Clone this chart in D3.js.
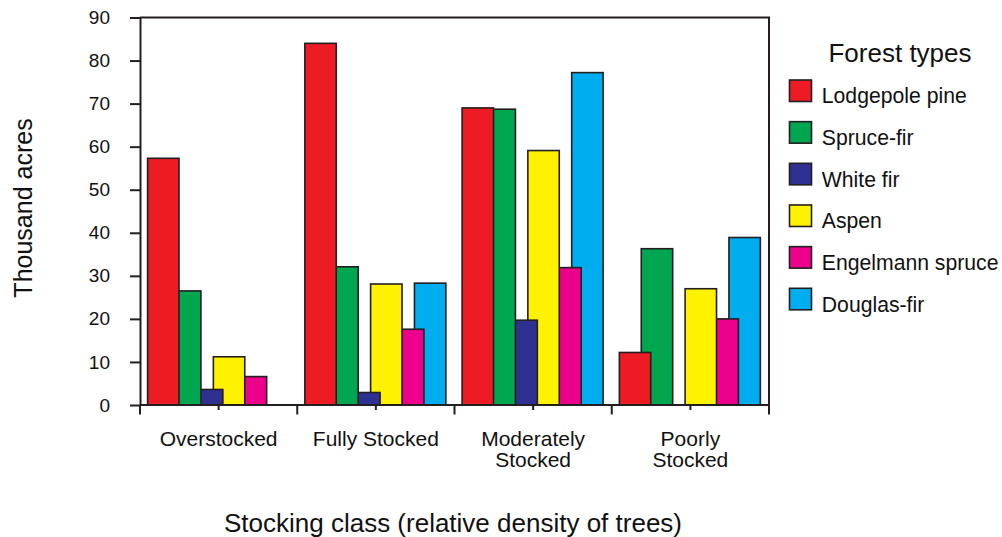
<!DOCTYPE html>
<html>
<head>
<meta charset="utf-8">
<script src="https://cdn.jsdelivr.net/npm/d3@7/dist/d3.min.js"></script>
<style>
  html, body { margin: 0; padding: 0; background: #fff; }
  svg { display: block; }
  text { font-family: "Liberation Sans", Arial, Helvetica, sans-serif; fill: #111; }
</style>
</head>
<body>
<svg id="chart" width="1002" height="537"></svg>
<script>
// ---- data ----
const categories = ["Overstocked", "Fully Stocked", "Moderately\nStocked", "Poorly\nStocked"];
const seriesNames = ["Lodgepole pine", "Spruce-fir", "White fir", "Aspen", "Engelmann spruce", "Douglas-fir"];
const lodgepolePine   = [57.3, 84.0, 69.0, 12.2];
const spruceFir       = [26.5, 32.1, 68.7, 36.3];
const whiteFir        = [3.6, 2.9, 19.7, 0];
const aspen           = [11.2, 28.1, 59.1, 27.0];
const engelmannSpruce = [6.6, 17.6, 31.9, 20.0];
const douglasFir      = [0, 28.3, 77.2, 38.9];
const yTicks = [0, 10, 20, 30, 40, 50, 60, 70, 80, 90];
const legendTitle = "Forest types";
const yTitle = "Thousand acres";
const xTitle = "Stocking class (relative density of trees)";

const seriesValues = [lodgepolePine, spruceFir, whiteFir, aspen, engelmannSpruce, douglasFir];
const colors = ["#ED1C24", "#00A650", "#2E3192", "#FFF200", "#EC008C", "#00AEEF"];
const ink = "#231F20";

const svg = d3.select("#chart");
const pL = 140, pR = 769, pT = 17.5, pB = 405;

const x = d3.scaleBand().domain(categories).range([pL, pR]).padding(0);
const y = d3.scaleLinear().domain([0, 90]).range([pB, pT]);
// offset of each series within a group (fraction of the band)
const bw = x.bandwidth();
const off = d3.scaleLinear().domain([0, seriesNames.length - 1]).range([7.6 / 157.25 * bw, 117.2 / 157.25 * bw]);
const barW = 31.4 / 157.25 * bw;

// flattened bar records
const bars = [];
seriesValues.forEach((vals, si) => {
  vals.forEach((v, ci) => {
    if (v > 0) bars.push({ si, cat: categories[ci], v });
  });
});
// draw in reverse series order (first series on top)
bars.sort((a, b) => b.si - a.si);

svg.append("g").selectAll("rect").data(bars).join("rect")
  .attr("x", d => x(d.cat) + off(d.si))
  .attr("y", d => y(d.v))
  .attr("width", barW)
  .attr("height", d => y(0) - y(d.v))
  .attr("fill", d => colors[d.si])
  .attr("stroke", ink)
  .attr("stroke-width", 1.6);

// frame (top & right)
svg.append("path")
  .attr("d", `M${pL},${pT}H${pR}V${pB + 9}`)
  .attr("fill", "none").attr("stroke", ink).attr("stroke-width", 2);

// y axis
const yAxis = svg.append("g").attr("transform", `translate(${pL},0)`)
  .call(d3.axisLeft(y).tickValues(yTicks).tickSize(10).tickPadding(20).tickSizeOuter(0));
yAxis.select(".domain").attr("stroke", ink).attr("stroke-width", 2);
yAxis.selectAll(".tick line").attr("stroke", ink).attr("stroke-width", 2);
yAxis.selectAll(".tick text").attr("font-size", 19).attr("fill", "#111")
  .attr("font-family", '"Liberation Sans", Arial, sans-serif');

// x axis line
svg.append("line").attr("x1", pL).attr("x2", pR).attr("y1", pB).attr("y2", pB)
  .attr("stroke", ink).attr("stroke-width", 2);
// boundary ticks (long)
const boundaries = categories.map(c => x(c)).concat([pR]);
svg.append("g").selectAll("line").data(boundaries).join("line")
  .attr("x1", d => d).attr("x2", d => d).attr("y1", pB).attr("y2", pB + 9.5)
  .attr("stroke", ink).attr("stroke-width", 2);
// center ticks (short)
svg.append("g").selectAll("line").data(categories).join("line")
  .attr("x1", d => x(d) + bw / 2).attr("x2", d => x(d) + bw / 2)
  .attr("y1", pB).attr("y2", pB + 5)
  .attr("stroke", ink).attr("stroke-width", 2);

// category labels
const catG = svg.append("g").selectAll("text").data(categories).join("text")
  .attr("x", d => x(d) + bw / 2)
  .attr("y", 446)
  .attr("text-anchor", "middle")
  .attr("font-size", 21);
catG.each(function(d) {
  const lines = d.split("\n");
  const t = d3.select(this);
  lines.forEach((ln, i) => {
    t.append("tspan").attr("x", x(d) + bw / 2).attr("y", 446 + i * 21).text(ln);
  });
});

// axis titles
svg.append("text")
  .attr("transform", `translate(31.5,208) rotate(-90)`)
  .attr("text-anchor", "middle").attr("font-size", 25).text(yTitle);
svg.append("text")
  .attr("x", 453).attr("y", 532)
  .attr("text-anchor", "middle").attr("font-size", 26).text(xTitle);

// legend
svg.append("text").attr("x", 900).attr("y", 61.7).attr("text-anchor", "middle")
  .attr("font-size", 26).text(legendTitle);
const lg = svg.append("g").selectAll("g").data(seriesNames).join("g")
  .attr("transform", (d, i) => `translate(0,${i * 41.66})`);
lg.append("rect").attr("x", 789.5).attr("y", 80).attr("width", 22).attr("height", 21.5)
  .attr("fill", (d, i) => colors[i]).attr("stroke", ink).attr("stroke-width", 1.6);
lg.append("text").attr("x", 821.8).attr("y", 103.3).attr("font-size", 21.2).text(d => d);
</script>
</body>
</html>
